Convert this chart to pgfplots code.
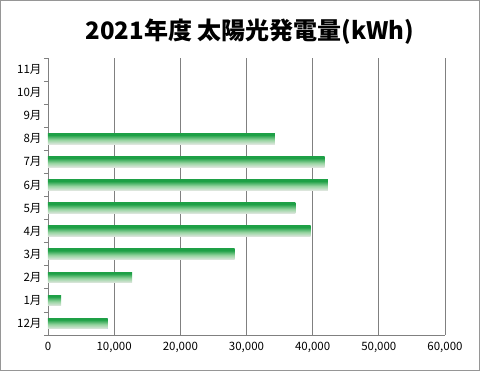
\documentclass[border=0pt]{standalone}
\usepackage{fontspec}
\setmainfont{Noto Sans CJK JP}
\usepackage{pgfplots}
\pgfplotsset{compat=1.18}
\definecolor{bartop}{RGB}{30,160,70}
\definecolor{barmid}{RGB}{150,212,160}
\definecolor{barbot}{RGB}{222,230,222}
\definecolor{frame}{RGB}{150,150,150}
\definecolor{gridc}{RGB}{128,128,128}
\pgfdeclareverticalshading{barshade}{100bp}{color(0bp)=(barbot); color(25bp)=(barbot); color(45bp)=(barmid); color(68bp)=(bartop); color(100bp)=(bartop)}
\begin{document}
\begin{tikzpicture}[x=1pt,y=1pt]
\draw[frame, line width=1pt] (0.5,0.5) rectangle (479.5,370.5);
\node[font=\fontsize{24}{28}\selectfont\bfseries] at (250,339) {2021年度 太陽光発電量(kWh)};
\begin{axis}[
  at={(48pt,36pt)}, anchor=south west,
  scale only axis, width=397pt, height=277pt,
  xbar, bar width=10.5pt, bar shift=0pt,
  xmin=0, xmax=60000, ymin=-0.5, ymax=11.5,
  ytick={0,...,11},
  yticklabels={12月,1月,2月,3月,4月,5月,6月,7月,8月,9月,10月,11月},
  minor ytick={-0.5,0.5,...,11.5},
  xtick={0,10000,...,60000},
  scaled x ticks=false,
  xticklabels={0,{10,000},{20,000},{30,000},{40,000},{50,000},{60,000}},
  major tick length=0pt, minor tick length=4pt, tick align=outside,
  minor tick style={gridc, line width=0.8pt},
  axis lines*=left,
  axis line style={gridc, line width=0.8pt, -},
  xmajorgrids, grid style={gridc, line width=0.8pt},
  ticklabel style={font=\fontsize{11.5}{13}\selectfont, text=black},
  yticklabel style={xshift=-3pt},
  xticklabel style={yshift=-4pt},
  clip=false,
  every axis plot/.style={xbar, draw=none, shading=barshade},
]
\addplot coordinates {(9000,0)};
\addplot coordinates {(2000,1)};
\addplot coordinates {(12700,2)};
\addplot coordinates {(28200,3)};
\addplot coordinates {(39700,4)};
\addplot coordinates {(37400,5)};
\addplot coordinates {(42300,6)};
\addplot coordinates {(41800,7)};
\addplot coordinates {(34300,8)};
\end{axis}
\pgfresetboundingbox
\useasboundingbox (0,0) rectangle (480,371);
\end{tikzpicture}
\end{document}
